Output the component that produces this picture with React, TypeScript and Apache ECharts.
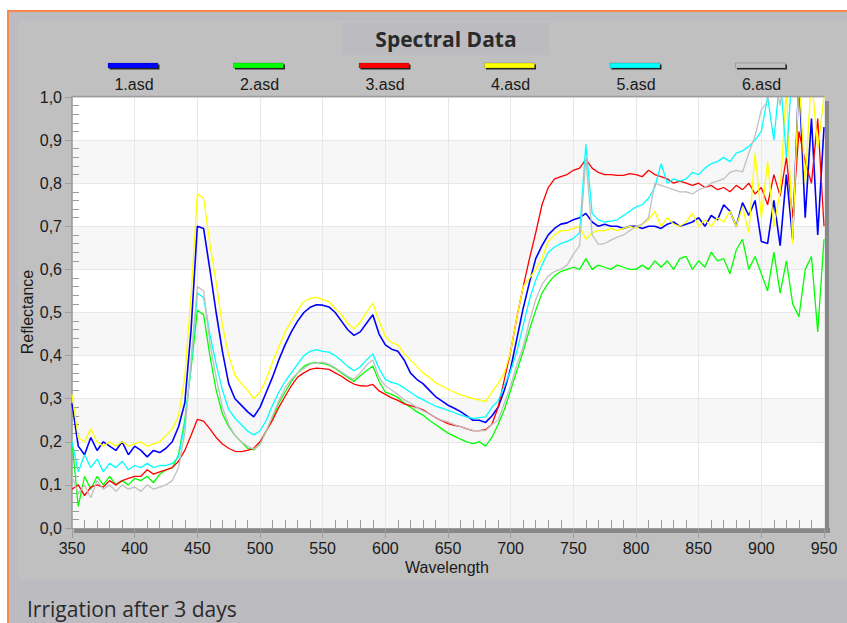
import React, { useEffect, useRef } from 'react';
import * as echarts from 'echarts';

const wavelengths = [
  350, 355, 360, 365, 370, 375, 380, 385, 390, 395,
  400, 405, 410, 415, 420, 425, 430, 435, 440, 445,
  450, 455, 460, 465, 470, 475, 480, 485, 490, 495,
  500, 505, 510, 515, 520, 525, 530, 535, 540, 545,
  550, 555, 560, 565, 570, 575, 580, 585, 590, 595,
  600, 605, 610, 615, 620, 625, 630, 635, 640, 645,
  650, 655, 660, 665, 670, 675, 680, 685, 690, 695,
  700, 705, 710, 715, 720, 725, 730, 735, 740, 745,
  750, 755, 760, 765, 770, 775, 780, 785, 790, 795,
  800, 805, 810, 815, 820, 825, 830, 835, 840, 845,
  850, 855, 860, 865, 870, 875, 880, 885, 890, 895,
  900, 905, 910, 915, 920, 925, 930, 935, 940, 945,
  950,
];

const seriesNames = ['1.asd', '2.asd', '3.asd', '4.asd', '5.asd', '6.asd'];
const seriesColors = ['#0000ff', '#00ff00', '#ff0000', '#ffff00', '#00ffff', '#c0c0c0'];

const asd1 = [
  0.29, 0.19, 0.17, 0.21, 0.18, 0.20, 0.19, 0.18, 0.20, 0.17,
  0.19, 0.18, 0.165, 0.18, 0.175, 0.185, 0.20, 0.235, 0.29, 0.46,
  0.70, 0.695, 0.60, 0.50, 0.41, 0.335, 0.30, 0.285, 0.27, 0.258,
  0.28, 0.315, 0.35, 0.39, 0.425, 0.455, 0.48, 0.50, 0.512, 0.518,
  0.517, 0.513, 0.50, 0.48, 0.46, 0.447, 0.455, 0.475, 0.495, 0.45,
  0.425, 0.415, 0.41, 0.39, 0.36, 0.345, 0.335, 0.32, 0.305, 0.295,
  0.285, 0.278, 0.27, 0.26, 0.25, 0.25, 0.245, 0.26, 0.28, 0.32,
  0.37, 0.44, 0.51, 0.57, 0.625, 0.655, 0.68, 0.695, 0.705, 0.708,
  0.715, 0.72, 0.73, 0.71, 0.70, 0.705, 0.70, 0.70, 0.695, 0.70,
  0.70, 0.695, 0.70, 0.70, 0.695, 0.705, 0.71, 0.70, 0.705, 0.71,
  0.72, 0.70, 0.725, 0.715, 0.75, 0.735, 0.70, 0.755, 0.725, 0.76,
  0.665, 0.66, 0.76, 0.655, 0.82, 0.67, 1.05, 0.72, 0.95, 0.68,
  0.93,
];

const asd2 = [
  0.20, 0.05, 0.12, 0.09, 0.12, 0.10, 0.12, 0.10, 0.11, 0.10,
  0.115, 0.11, 0.12, 0.105, 0.125, 0.135, 0.14, 0.17, 0.25, 0.37,
  0.505, 0.495, 0.40, 0.32, 0.265, 0.235, 0.215, 0.20, 0.185, 0.181,
  0.195, 0.225, 0.255, 0.29, 0.315, 0.34, 0.36, 0.375, 0.382, 0.384,
  0.382, 0.378, 0.37, 0.36, 0.35, 0.34, 0.353, 0.365, 0.376, 0.34,
  0.315, 0.31, 0.303, 0.29, 0.28, 0.27, 0.262, 0.25, 0.24, 0.23,
  0.22, 0.213, 0.206, 0.20, 0.196, 0.20, 0.19, 0.21, 0.24, 0.275,
  0.32, 0.365, 0.41, 0.46, 0.505, 0.545, 0.568, 0.585, 0.595, 0.60,
  0.605, 0.60, 0.625, 0.60, 0.61, 0.605, 0.60, 0.61, 0.605, 0.60,
  0.60, 0.61, 0.60, 0.62, 0.605, 0.62, 0.60, 0.625, 0.63, 0.60,
  0.62, 0.605, 0.64, 0.62, 0.625, 0.59, 0.645, 0.67, 0.60, 0.63,
  0.59, 0.55, 0.64, 0.545, 0.62, 0.52, 0.49, 0.60, 0.63, 0.455,
  0.67,
];

const asd3 = [
  0.09, 0.10, 0.075, 0.095, 0.10, 0.095, 0.11, 0.10, 0.11, 0.115,
  0.12, 0.12, 0.135, 0.125, 0.13, 0.135, 0.14, 0.155, 0.18, 0.215,
  0.252, 0.248, 0.23, 0.21, 0.195, 0.185, 0.178, 0.177, 0.18, 0.185,
  0.20, 0.225, 0.25, 0.28, 0.305, 0.33, 0.35, 0.36, 0.368, 0.371,
  0.37, 0.368, 0.36, 0.352, 0.342, 0.334, 0.33, 0.329, 0.333, 0.318,
  0.31, 0.302, 0.296, 0.288, 0.284, 0.28, 0.274, 0.265, 0.256, 0.249,
  0.242, 0.238, 0.235, 0.23, 0.226, 0.226, 0.228, 0.24, 0.28, 0.345,
  0.41, 0.49, 0.56, 0.625, 0.685, 0.75, 0.79, 0.81, 0.815, 0.82,
  0.83, 0.835, 0.855, 0.835, 0.825, 0.82, 0.82, 0.818, 0.818, 0.822,
  0.82, 0.815, 0.83, 0.82, 0.815, 0.81, 0.80, 0.805, 0.80, 0.795,
  0.80, 0.79, 0.795, 0.785, 0.79, 0.78, 0.795, 0.785, 0.80, 0.775,
  0.79, 0.75, 0.82, 0.77, 0.86, 0.72, 0.92, 0.85, 0.80, 0.95,
  0.70,
];

const asd4 = [
  0.31, 0.21, 0.20, 0.23, 0.20, 0.19, 0.20, 0.19, 0.20, 0.19,
  0.195, 0.20, 0.19, 0.195, 0.20, 0.215, 0.23, 0.26, 0.35, 0.54,
  0.775, 0.765, 0.66, 0.57, 0.47, 0.40, 0.355, 0.335, 0.32, 0.30,
  0.315, 0.345, 0.385, 0.42, 0.455, 0.48, 0.505, 0.525, 0.533, 0.535,
  0.53, 0.525, 0.51, 0.495, 0.475, 0.462, 0.478, 0.50, 0.522, 0.48,
  0.445, 0.43, 0.425, 0.405, 0.39, 0.375, 0.36, 0.35, 0.337, 0.33,
  0.322, 0.315, 0.309, 0.305, 0.30, 0.297, 0.293, 0.315, 0.335, 0.36,
  0.41, 0.49, 0.56, 0.58, 0.60, 0.625, 0.665, 0.68, 0.69, 0.69,
  0.695, 0.70, 0.67, 0.685, 0.69, 0.69, 0.695, 0.69, 0.695, 0.70,
  0.695, 0.705, 0.715, 0.735, 0.70, 0.72, 0.705, 0.70, 0.71, 0.73,
  0.70, 0.715, 0.70, 0.72, 0.71, 0.735, 0.70, 0.745, 0.685, 0.87,
  0.72, 0.85, 0.70, 0.78, 1.02, 0.66, 1.05, 0.80, 1.05, 0.88,
  1.0,
];

const asd5 = [
  0.20, 0.13, 0.17, 0.14, 0.16, 0.13, 0.15, 0.14, 0.155, 0.135,
  0.145, 0.14, 0.15, 0.14, 0.145, 0.145, 0.15, 0.165, 0.24, 0.38,
  0.545, 0.535, 0.45, 0.38, 0.32, 0.275, 0.255, 0.24, 0.225, 0.216,
  0.225, 0.25, 0.285, 0.315, 0.34, 0.36, 0.38, 0.40, 0.41, 0.414,
  0.41, 0.408, 0.40, 0.388, 0.375, 0.365, 0.374, 0.39, 0.404, 0.37,
  0.345, 0.338, 0.334, 0.325, 0.315, 0.305, 0.298, 0.29, 0.283, 0.278,
  0.273, 0.268, 0.262, 0.258, 0.254, 0.256, 0.258, 0.28, 0.295, 0.33,
  0.365, 0.41, 0.47, 0.53, 0.575, 0.61, 0.64, 0.652, 0.66, 0.665,
  0.672, 0.685, 0.89, 0.73, 0.715, 0.71, 0.712, 0.715, 0.725, 0.735,
  0.745, 0.75, 0.765, 0.79, 0.845, 0.80, 0.81, 0.805, 0.81, 0.825,
  0.82, 0.835, 0.845, 0.85, 0.86, 0.85, 0.87, 0.875, 0.885, 0.90,
  0.92, 1.0, 0.90, 1.05, 0.86, 1.08, 1.0, 1.1, 1.08, 1.1,
  1.1,
];

const asd6 = [
  0.12, 0.08, 0.10, 0.07, 0.11, 0.09, 0.10, 0.085, 0.10, 0.09,
  0.095, 0.085, 0.10, 0.09, 0.095, 0.10, 0.11, 0.14, 0.22, 0.39,
  0.56, 0.55, 0.43, 0.35, 0.28, 0.24, 0.215, 0.20, 0.19, 0.183,
  0.195, 0.225, 0.26, 0.295, 0.325, 0.345, 0.36, 0.37, 0.38, 0.383,
  0.385, 0.38, 0.372, 0.362, 0.352, 0.345, 0.36, 0.378, 0.39, 0.35,
  0.33, 0.32, 0.31, 0.298, 0.29, 0.28, 0.272, 0.265, 0.256, 0.25,
  0.246, 0.24, 0.235, 0.23, 0.226, 0.226, 0.226, 0.24, 0.25, 0.29,
  0.33, 0.38, 0.42, 0.48, 0.53, 0.565, 0.585, 0.595, 0.60, 0.61,
  0.635, 0.655, 0.86, 0.68, 0.658, 0.66, 0.668, 0.675, 0.68, 0.69,
  0.70, 0.705, 0.72, 0.80, 0.795, 0.79, 0.785, 0.78, 0.78, 0.775,
  0.785, 0.79, 0.80, 0.805, 0.81, 0.825, 0.83, 0.826, 0.87, 0.91,
  0.97, 0.99, 1.05, 0.98, 1.1, 1.02, 1.12, 1.1, 1.06, 1.1,
  1.08,
];

const seriesValues = [asd1, asd2, asd3, asd4, asd5, asd6];

const yTickLabels = ['0,0', '0,1', '0,2', '0,3', '0,4', '0,5', '0,6', '0,7', '0,8', '0,9', '1,0'];

const titleText = 'Spectral Data';
const captionText = 'Irrigation after 3 days';
const xAxisName = 'Wavelength';
const yAxisName = 'Reflectance';

const LABEL_FONT = '"Liberation Sans", Arial, sans-serif';
const AXIS_GRAY = '#9c9c9c';

export default function App() {
  const ref = useRef<HTMLDivElement>(null);

  useEffect(() => {
    if (!ref.current) return;
    const chart = echarts.init(ref.current, null, { renderer: 'svg' });

    const legendEls: any[] = [];
    seriesNames.forEach((name, i) => {
      const cx = 134 + i * 125.5;
      legendEls.push({
        type: 'rect',
        z: 10,
        shape: { x: cx - 24.5, y: 64.5, width: 50, height: 5 },
        style: { fill: '#262626' },
      });
      legendEls.push({
        type: 'rect',
        z: 11,
        shape: { x: cx - 26, y: 63, width: 50, height: 5 },
        style: { fill: seriesColors[i], stroke: 'rgba(0,0,0,0.35)', lineWidth: 0.5 },
      });
      legendEls.push({
        type: 'text',
        z: 11,
        x: cx,
        y: 84,
        style: {
          text: name,
          font: '16px ' + LABEL_FONT,
          fill: '#1a1a1a',
          align: 'center',
          verticalAlign: 'middle',
        },
      });
    });

    const option: any = {
      animation: false,
      backgroundColor: 'transparent',
      grid: {
        left: 72,
        top: 97,
        width: 752,
        height: 431,
        show: true,
        backgroundColor: '#ffffff',
        borderColor: AXIS_GRAY,
        borderWidth: 1,
        containLabel: false,
      },
      xAxis: [
        {
          type: 'value',
          min: 350,
          max: 950,
          interval: 50,
          position: 'bottom',
          axisLine: { show: true, onZero: false, lineStyle: { color: AXIS_GRAY, width: 1 } },
          axisTick: { show: true, inside: false, length: 10, lineStyle: { color: AXIS_GRAY } },
          axisLabel: {
            margin: 12,
            color: '#1a1a1a',
            fontSize: 16,
            fontFamily: LABEL_FONT,
            formatter: (v: number) => String(v),
          },
          splitLine: { show: true, lineStyle: { color: '#e8e8e8', width: 1 } },
          minorTick: { show: false },
        },
        {
          type: 'value',
          min: 350,
          max: 950,
          interval: 50,
          position: 'bottom',
          axisLine: { show: false, onZero: false },
          axisTick: { show: false, inside: true },
          axisLabel: { show: false },
          splitLine: { show: false },
          minorTick: { show: true, splitNumber: 5, length: 8, lineStyle: { color: AXIS_GRAY } },
        },
      ],
      yAxis: [
        {
          type: 'value',
          min: 0,
          max: 1,
          interval: 0.1,
          position: 'left',
          axisLine: { show: true, onZero: false, lineStyle: { color: AXIS_GRAY, width: 1.5 } },
          axisTick: { show: true, inside: false, length: 7, lineStyle: { color: AXIS_GRAY } },
          axisLabel: {
            margin: 10,
            color: '#1a1a1a',
            fontSize: 16,
            fontFamily: LABEL_FONT,
            formatter: (v: number) => yTickLabels[Math.round(v * 10)],
          },
          splitLine: { show: true, lineStyle: { color: '#e8e8e8', width: 1 } },
          splitArea: { show: true, areaStyle: { color: ['#f7f7f7', '#ffffff'] } },
        },
        {
          type: 'value',
          min: 0,
          max: 1,
          interval: 0.1,
          position: 'left',
          axisLine: { show: false, onZero: false },
          axisTick: { show: false, inside: true },
          axisLabel: { show: false },
          splitLine: { show: false },
          minorTick: { show: true, splitNumber: 5, length: 7, lineStyle: { color: AXIS_GRAY } },
        },
      ],
      graphic: [
        {
          type: 'line',
          z: 100,
          shape: { x1: 71, y1: 96.5, x2: 824.5, y2: 96.5 },
          style: { stroke: AXIS_GRAY, lineWidth: 1.5 },
        },
        {
          type: 'text',
          z: 11,
          x: 446,
          y: 39,
          style: {
            text: titleText,
            font: 'bold 21px "Open Sans", sans-serif',
            fill: '#2a2a2a',
            align: 'center',
            verticalAlign: 'middle',
          },
        },
        ...legendEls,
        {
          type: 'text',
          z: 11,
          x: 447,
          y: 567,
          style: {
            text: xAxisName,
            font: '16px ' + LABEL_FONT,
            fill: '#1a1a1a',
            align: 'center',
            verticalAlign: 'middle',
          },
        },
        {
          type: 'text',
          z: 11,
          x: 27,
          y: 312,
          rotation: Math.PI / 2,
          style: {
            text: yAxisName,
            font: '16px ' + LABEL_FONT,
            fill: '#1a1a1a',
            align: 'center',
            verticalAlign: 'middle',
          },
        },
        {
          type: 'text',
          z: 11,
          x: 27,
          y: 609,
          style: {
            text: captionText,
            font: '21px "Open Sans", sans-serif',
            fill: '#2a2a2a',
            align: 'left',
            verticalAlign: 'middle',
          },
        },
      ],
      series: seriesValues.map((vals, i) => ({
        name: seriesNames[i],
        type: 'line',
        xAxisIndex: 0,
        yAxisIndex: 0,
        data: wavelengths.map((w, j) => [w, vals[j]]),
        showSymbol: false,
        symbol: 'none',
        clip: true,
        lineStyle: { color: seriesColors[i], width: i === 0 ? 1.6 : 1.3 },
        itemStyle: { color: seriesColors[i] },
        emphasis: { disabled: true },
        z: 3,
      })),
    };

    chart.setOption(option);
    return () => chart.dispose();
  }, []);

  const fixed = (s: React.CSSProperties): React.CSSProperties => ({ position: 'fixed', ...s });

  return (
    <div>
      <div style={fixed({ left: 7, top: 10, width: 840, height: 613, background: '#f7874a' })} />
      <div style={fixed({ left: 9, top: 12, width: 838, height: 611, background: '#bcbcc0' })} />
      <div style={fixed({ left: 18, top: 20, width: 829, height: 560, background: '#c0c0c0' })} />
      <div style={fixed({ left: 343, top: 23, width: 206, height: 32, background: '#bcbcc0' })} />
      <div style={fixed({ left: 74, top: 528, width: 756, height: 5, background: '#888888' })} />
      <div style={fixed({ left: 824, top: 101, width: 5, height: 432, background: '#888888' })} />
      <div ref={ref} style={fixed({ left: 0, top: 0, width: 847, height: 623 })} />
    </div>
  );
}
